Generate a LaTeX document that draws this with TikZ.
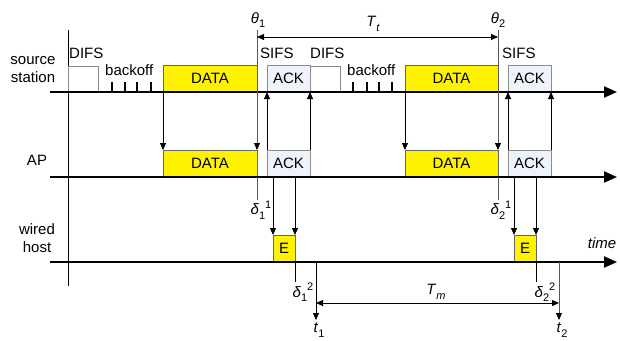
\documentclass[tikz,border=0pt]{standalone}
\usepackage{fontspec}
\setmainfont{Liberation Sans}
\usetikzlibrary{arrows.meta}
\newcommand{\mysb}[1]{\raisebox{-0.55ex}{\fontsize{11}{11}\selectfont #1}}
\newcommand{\mysp}[1]{\raisebox{0.85ex}{\fontsize{11}{11}\selectfont #1}}
\definecolor{ackfill}{RGB}{238,243,251}
\begin{document}
\begin{tikzpicture}[x=1pt,y=-1pt,font=\fontsize{15}{18}\selectfont,
  axis/.style={line width=2pt,-{Triangle[length=13pt,width=11pt]}},
  box/.style={inner sep=0pt,outer sep=0pt,anchor=south west,line width=0.8pt},
  databox/.style={box,draw=black!60,fill=yellow,minimum height=27pt},
  ackbox/.style={box,draw=black!45,fill=ackfill,minimum height=27pt,minimum width=43pt},
  difsbox/.style={box,draw=black!45,fill=white,minimum height=26pt,minimum width=30pt},
  ebox/.style={box,draw=black!60,fill=yellow,minimum height=27pt,minimum width=22pt},
  sig/.style={line width=0.8pt,-{Triangle[length=7pt,width=6pt]}},
  gsig/.style={line width=0.8pt,draw=black!65,-{Triangle[length=7pt,width=6pt,color=black]}},
  dline/.style={line width=0.8pt,draw=black!65},
  bo/.style={line width=1.6pt},
  lbl/.style={inner sep=0pt},
  both/.style={line width=0.8pt,{Triangle[length=7pt,width=6pt]}-{Triangle[length=7pt,width=6pt]}}]
\useasboundingbox (0,0) rectangle (620,340);

% left frame line
\coordinate (ltop) at (68,30);
\coordinate (lbot) at (68,286);
\draw[line width=0.8pt] (ltop) -- (lbot);

% source station boxes
\node[difsbox] (sdifs1) at (68,92) {};
\node[databox,minimum width=94pt] (sdata1) at (163,92) {DATA};
\node[ackbox] (sack1) at (267,92) {ACK};
\node[difsbox] (sdifs2) at (310,92) {};
\node[databox,minimum width=93pt] (sdata2) at (405,92) {DATA};
\node[ackbox] (sack2) at (508,92) {ACK};

% AP boxes
\node[databox,minimum width=94pt] (adata1) at (163,177) {DATA};
\node[ackbox] (aack1) at (267,177) {ACK};
\node[databox,minimum width=93pt] (adata2) at (405,177) {DATA};
\node[ackbox] (aack2) at (508,177) {ACK};

% wired host boxes
\node[ebox] (we1) at (273,262) {E};
\node[ebox] (we2) at (514,262) {E};

% backoff ticks
\foreach \x in {112,125,137,151,353,367,379,392}
  \draw[bo] (\x,82) -- (\x,92);

% axes
\coordinate (s0) at (50,92);  \coordinate (s1) at (617,92);
\coordinate (a0) at (50,177); \coordinate (a1) at (617,177);
\coordinate (w0) at (50,262); \coordinate (w1) at (617,262);
\draw[axis] (s0) -- (s1);
\draw[axis] (a0) -- (a1);
\draw[axis] (w0) -- (w1);

% theta lines
\coordinate (th1) at (257,30);
\coordinate (th2) at (498,30);
\draw[gsig] (th1) -- (adata1.north east);
\draw[gsig] (th2) -- (adata2.north east);
\draw[sig] (sdata1.south west) -- (adata1.north west);
\draw[sig] (sdata2.south west) -- (adata2.north west);

% ACK up arrows
\draw[sig] (aack1.north west) -- (sack1.south west);
\draw[sig] (aack1.north east) -- (sack1.south east);
\draw[sig] (aack2.north west) -- (sack2.south west);
\draw[sig] (aack2.north east) -- (sack2.south east);

% down to E
\draw[sig] (we1.north west |- aack1.south) -- (we1.north west);
\draw[sig] (we1.north east |- aack1.south) -- (we1.north east);
\draw[sig] (we2.north west |- aack2.south) -- (we2.north west);
\draw[sig] (we2.north east |- aack2.south) -- (we2.north east);

% delta lines
\coordinate (d11) at (257,200);
\coordinate (d21) at (498,200);
\coordinate (d12) at (295,282);
\coordinate (d22) at (536,282);
\draw[dline] (adata1.south east) -- (d11);
\draw[dline] (adata2.south east) -- (d21);
\draw[line width=0.8pt] (we1.south east) -- (d12);
\draw[line width=0.8pt] (we2.south east) -- (d22);

% t1, t2
\coordinate (t1top) at (316,262); \coordinate (t1bot) at (316,320);
\coordinate (t2top) at (559,262); \coordinate (t2bot) at (559,320);
\draw[sig] (t1top) -- (t1bot);
\draw[gsig] (t2top) -- (t2bot);

% Tt and Tm
\coordinate (tta) at (257,37); \coordinate (ttb) at (498,37);
\draw[both] (tta) -- (ttb);
\coordinate (tma) at (316,303); \coordinate (tmb) at (559,303);
\draw[both] (tma) -- (tmb);

% labels
\node[lbl,anchor=west] (ldifs1) at (69,53) {DIFS};
\node[lbl,anchor=west] (lbo1) at (105,70) {backoff};
\node[lbl,anchor=west] (lsifs1) at (260,53) {SIFS};
\node[lbl,anchor=west] (ldifs2) at (310,53) {DIFS};
\node[lbl,anchor=west] (lbo2) at (347,70) {backoff};
\node[lbl,anchor=west] (lsifs2) at (502,53) {SIFS};

\node[lbl,align=center] (lsrc) at (33,70) {source\\station};
\node[lbl] (lap) at (37,160) {AP};
\node[lbl,align=center] (lwh) at (37,238) {wired\\host};
\node[lbl,font=\fontsize{15}{18}\selectfont\itshape] (ltime) at (602,243) {time};

\node[lbl] (lth1) at (258,20) {\textit{θ}\mysb{1}};
\node[lbl] (lth2) at (498,20) {\textit{θ}\mysb{2}};
\node[lbl] (ltt) at (373,24) {\textit{T}\mysb{\textit{t}}};
\node[lbl] (ltm) at (436,292) {\textit{T}\mysb{\textit{m}}};
\node[lbl] (ld11) at (261,210) {\textit{δ}\mysb{1}\mysp{1}};
\node[lbl] (ld21) at (501,210) {\textit{δ}\mysb{2}\mysp{1}};
\node[lbl] (ld12) at (303,292) {\textit{δ}\mysb{1}\mysp{2}};
\node[lbl] (ld22) at (545,292) {\textit{δ}\mysb{2}\mysp{2}};
\node[lbl] (lt1) at (319,330) {\textit{t}\mysb{1}};
\node[lbl] (lt2) at (562,330) {\textit{t}\mysb{2}};
\end{tikzpicture}
\end{document}
